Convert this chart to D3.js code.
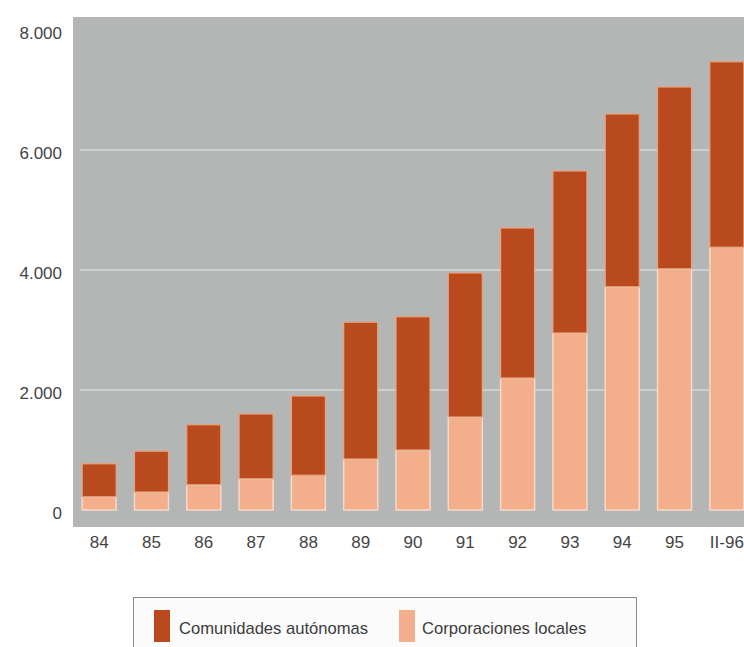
<!DOCTYPE html>
<html>
<head>
<meta charset="utf-8">
<script src="https://cdn.jsdelivr.net/npm/d3@7/dist/d3.min.js"></script>
<style>
  html, body { margin: 0; padding: 0; background: #ffffff; }
  svg { display: block; font-family: "Liberation Sans", Arial, Helvetica, sans-serif; }
</style>
</head>
<body>
<svg id="chart" width="744" height="647"></svg>
<script>
// Periods on the horizontal axis
const periods = ["84", "85", "86", "87", "88", "89", "90", "91", "92", "93", "94", "95", "II-96"];
// Corporaciones locales (lower segment)
const corporacionesLocales = [220, 300, 420, 520, 580, 850, 1000, 1550, 2200, 2950, 3720, 4020, 4380];
// Comunidades autónomas (upper segment, stacked on top)
const comunidadesAutonomas = [550, 680, 1000, 1080, 1320, 2280, 2220, 2400, 2500, 2700, 2880, 3030, 3090];
const yTicks = [0, 2000, 4000, 6000, 8000];
const seriesNames = ["Comunidades autónomas", "Corporaciones locales"];

const colorDark = "#b84a1d";
const colorLight = "#f3ae8b";
const fmt = v => d3.format(",")(v).replace(/,/g, ".");

const svg = d3.select("#chart");

const x = d3.scaleBand().domain(periods).range([73, 753]).paddingInner(0.35).paddingOuter(0.175);
const y = d3.scaleLinear().domain([0, 8000]).range([510, 30]);

// plot background
svg.append("rect")
  .attr("x", 73).attr("y", 17)
  .attr("width", 744 - 73).attr("height", 527 - 17)
  .attr("fill", "#b3b6b5");

// horizontal gridlines
svg.append("g").selectAll("line")
  .data(yTicks.filter(t => t > 0 && t < 8000))
  .join("line")
  .attr("x1", 80).attr("x2", 744)
  .attr("y1", d => y(d)).attr("y2", d => y(d))
  .attr("stroke", "#cdd0cf").attr("stroke-width", 2);

// stacked bars
const rows = periods.map((p, i) => ({ p, local: corporacionesLocales[i], auto: comunidadesAutonomas[i] }));
const bars = svg.append("g");
bars.selectAll("rect.local")
  .data(rows).join("rect").attr("class", "local")
  .attr("x", d => x(d.p)).attr("width", x.bandwidth())
  .attr("y", d => y(d.local)).attr("height", d => y(0) - y(d.local))
  .attr("fill", colorLight).attr("stroke", "#f8d9c6").attr("stroke-width", 1.5);
bars.selectAll("rect.auto")
  .data(rows).join("rect").attr("class", "auto")
  .attr("x", d => x(d.p)).attr("width", x.bandwidth())
  .attr("y", d => y(d.local + d.auto)).attr("height", d => y(d.local) - y(d.local + d.auto))
  .attr("fill", colorDark).attr("stroke", "#e8a27f").attr("stroke-width", 1.2);

// y axis labels
const yAxis = d3.axisLeft(y).tickValues(yTicks).tickSize(0).tickPadding(0).tickFormat(fmt);
const gy = svg.append("g").attr("transform", "translate(62,3)").call(yAxis);
gy.select(".domain").remove();
gy.selectAll("text").attr("font-size", 17).attr("fill", "#444444")
  .attr("font-family", "'Liberation Sans', Arial, sans-serif");

// x axis labels
const xAxis = d3.axisBottom(x).tickSize(0).tickPadding(0);
const gx = svg.append("g").attr("transform", "translate(0,536)").call(xAxis);
gx.select(".domain").remove();
gx.selectAll("text").attr("font-size", 17).attr("fill", "#444444")
  .attr("font-family", "'Liberation Sans', Arial, sans-serif");

// legend
const legend = svg.append("g");
legend.append("rect")
  .attr("x", 133.5).attr("y", 597.5).attr("width", 503).attr("height", 60)
  .attr("fill", "#fbfbfb").attr("stroke", "#8a8a8a").attr("stroke-width", 1);
const legendItems = [
  { name: seriesNames[0], color: colorDark, sx: 154, tx: 179 },
  { name: seriesNames[1], color: colorLight, sx: 399, tx: 422 }
];
legendItems.forEach(it => {
  legend.append("rect").attr("x", it.sx).attr("y", 610).attr("width", 16).attr("height", 32).attr("fill", it.color);
  legend.append("text").attr("x", it.tx).attr("y", 634)
    .attr("font-size", 16.6).attr("fill", "#3c3c3c").text(it.name);
});
</script>
</body>
</html>
